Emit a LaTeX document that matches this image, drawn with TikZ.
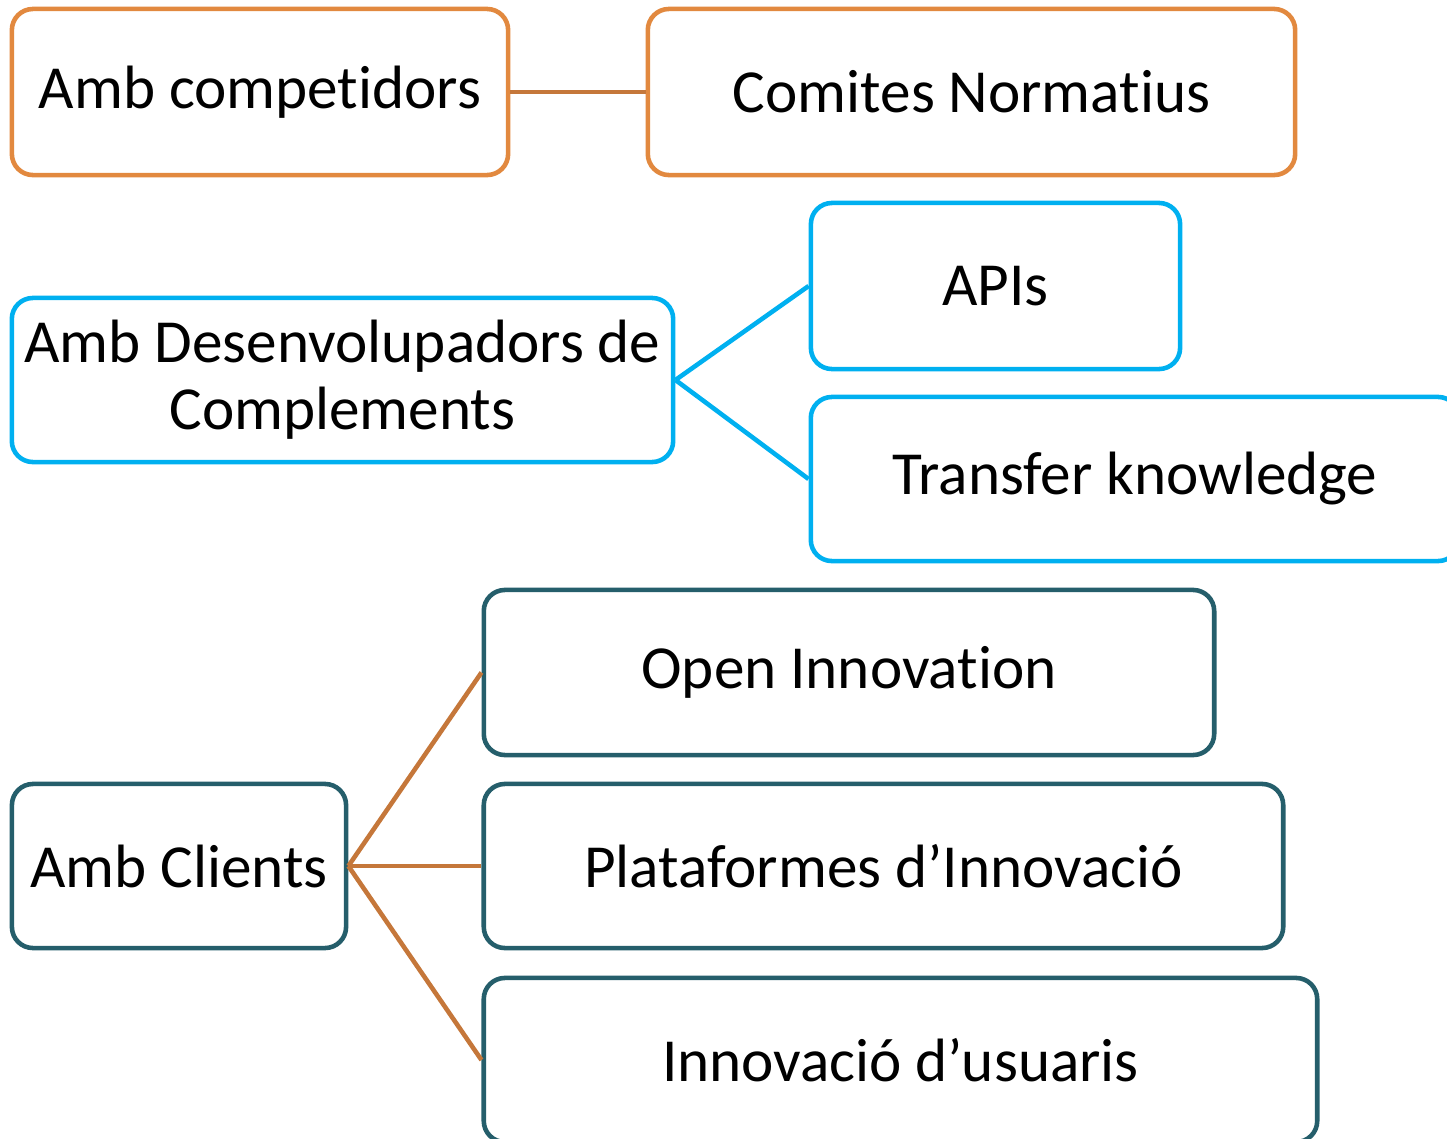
\documentclass[tikz,border=0pt]{standalone}
\usepackage{fontspec}
\setmainfont{Carlito}[Ligatures=NoCommon]
\usepackage{xcolor}
\usetikzlibrary{positioning}

\definecolor{compOrange}{HTML}{E2893F}
\definecolor{linkBrown}{HTML}{C5773A}
\definecolor{devCyan}{HTML}{00B0F0}
\definecolor{clientTeal}{HTML}{255E6B}

\begin{document}
\begin{tikzpicture}[x=0.01cm,y=-0.01cm,
  box/.style={rectangle,draw,line width=1.3pt,rounded corners=6pt,fill=white,
    align=center,inner sep=0pt,font=\fontsize{17.4}{19}\selectfont},
  orangebox/.style={box,draw=compOrange},
  cyanbox/.style={box,draw=devCyan},
  tealbox/.style={box,draw=clientTeal},
  link/.style={line width=1.3pt}]
\useasboundingbox (0,0) rectangle (1447,1139);
\clip (0,0) rectangle (1447,1139);

% Amb competidors
\node[orangebox,minimum width=4.96cm,minimum height=1.66cm] (comp) at (260,92) {Amb competidors};
\node[orangebox,minimum width=6.47cm,minimum height=1.66cm] (norm) at (971.5,92) {Comites Normatius};
\draw[link,linkBrown] (comp.east) -- (norm.west);

% Amb desenvolupadors
\node[cyanbox,minimum width=6.61cm,minimum height=1.64cm] (dev) at (342.5,380) {Amb Desenvolupadors de\\Complements};
\node[cyanbox,minimum width=3.69cm,minimum height=1.66cm] (apis) at (995.5,286) {APIs};
\node[cyanbox,minimum width=6.48cm,minimum height=1.64cm] (transf) at (1135,479) {Transfer knowledge};
\draw[link,devCyan] (dev.east) -- (apis.west);
\draw[link,devCyan] (dev.east) -- (transf.west);

% Amb clients
\node[tealbox,minimum width=3.34cm,minimum height=1.64cm] (cli) at (179,866) {Amb Clients};
\node[tealbox,minimum width=7.30cm,minimum height=1.65cm] (open) at (849,672.5) {Open Innovation};
\node[tealbox,minimum width=7.99cm,minimum height=1.64cm] (plat) at (883.5,866) {Plataformes d’Innovació};
\node[tealbox,minimum width=8.33cm,minimum height=1.64cm] (usu) at (900.5,1060) {Innovació d’usuaris};
\draw[link,linkBrown] (cli.east) -- (open.west);
\draw[link,linkBrown] (cli.east) -- (plat.west);
\draw[link,linkBrown] (cli.east) -- (usu.west);
\end{tikzpicture}
\end{document}
